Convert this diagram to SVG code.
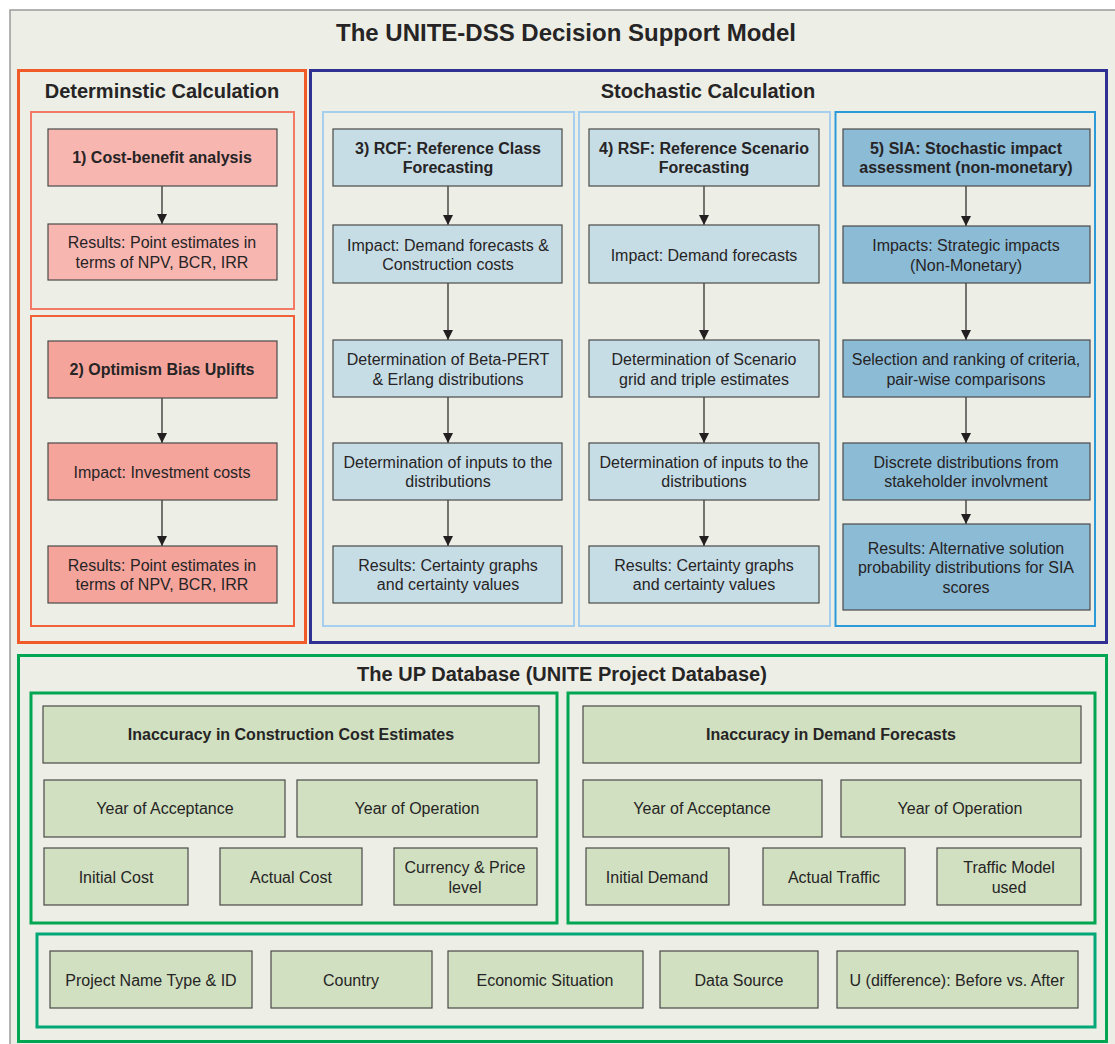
<svg xmlns="http://www.w3.org/2000/svg" width="1115" height="1044" viewBox="0 0 1115 1044">
<defs>
<marker id="ah" viewBox="0 0 10 10" refX="10" refY="5" markerWidth="10" markerHeight="10" markerUnits="userSpaceOnUse" orient="auto">
<path d="M0,0 L10,5 L0,10 z" fill="#231F20"/>
</marker>
<style>
text{font-family:"Liberation Sans",Arial,sans-serif;fill:#262425;text-anchor:middle;dominant-baseline:central}
.t{font-size:24px;font-weight:bold}
.h{font-size:20px;font-weight:bold}
.b{font-size:16px;font-weight:bold}
.n{font-size:16px}
.nd rect{stroke:#4a4a4a;stroke-width:1.2}
.pk1 rect{fill:#F8B6B1}
.pk2 rect{fill:#F5A49C}
.lb rect{fill:#C7DDE5}
.db rect{fill:#8CBBD6}
.gr rect{fill:#D0E0C0}
.edge{stroke:#231F20;stroke-width:1.2;fill:none;marker-end:url(#ah)}
</style>
</defs>
<rect x="0" y="0" width="1115" height="1044" fill="#ffffff"/>
<rect x="10" y="10" width="1110" height="1040" fill="#EDEFE6" stroke="#9a9a9a" stroke-width="1.5"/>
<text class="t" x="566" y="32">The UNITE-DSS Decision Support Model</text>

<g id="deterministic">
<rect x="18.5" y="70.5" width="287" height="572" fill="none" stroke="#F15A29" stroke-width="3"/>
<text class="h" x="162" y="91">Determinstic Calculation</text>
<rect x="31" y="112" width="263" height="197" fill="none" stroke="#F37A66" stroke-width="2"/>
<rect x="31" y="316" width="263" height="310" fill="none" stroke="#F2603A" stroke-width="2"/>
</g>

<g id="stochastic">
<rect x="310.5" y="70.5" width="796" height="572" fill="none" stroke="#2E3192" stroke-width="3"/>
<text class="h" x="708" y="91">Stochastic Calculation</text>
<rect x="323" y="112" width="251" height="514" fill="none" stroke="#A6CFEE" stroke-width="2"/>
<rect x="579" y="112" width="251" height="514" fill="none" stroke="#A6CFEE" stroke-width="2"/>
<rect x="835.5" y="112" width="259.5" height="514" fill="none" stroke="#2A9AD8" stroke-width="2"/>
</g>

<g id="updb">
<rect x="18.5" y="655.5" width="1088" height="386" fill="none" stroke="#00A651" stroke-width="3"/>
<text class="h" x="562" y="674">The UP Database (UNITE Project Database)</text>
<rect x="31" y="693" width="526" height="230" fill="none" stroke="#00A651" stroke-width="3"/>
<rect x="568" y="693" width="527" height="230" fill="none" stroke="#00A651" stroke-width="3"/>
<rect x="37" y="934" width="1058" height="93" fill="none" stroke="#00A878" stroke-width="3"/>
</g>

<g id="connectors">
<line class="edge" x1="162" y1="186" x2="162" y2="224"/>
<line class="edge" x1="162" y1="398" x2="162" y2="443"/>
<line class="edge" x1="162" y1="500" x2="162" y2="546"/>
<line class="edge" x1="448" y1="186" x2="448" y2="225"/>
<line class="edge" x1="448" y1="283" x2="448" y2="340"/>
<line class="edge" x1="448" y1="397" x2="448" y2="443"/>
<line class="edge" x1="448" y1="500" x2="448" y2="546"/>
<line class="edge" x1="704" y1="186" x2="704" y2="225"/>
<line class="edge" x1="704" y1="283" x2="704" y2="340"/>
<line class="edge" x1="704" y1="397" x2="704" y2="443"/>
<line class="edge" x1="704" y1="500" x2="704" y2="546"/>
<line class="edge" x1="966" y1="186" x2="966" y2="226"/>
<line class="edge" x1="966" y1="283" x2="966" y2="340"/>
<line class="edge" x1="966" y1="397" x2="966" y2="443"/>
<line class="edge" x1="966" y1="500" x2="966" y2="524"/>
</g>

<g id="n1" class="nd pk1"><rect x="48" y="129" width="229" height="57"/><text class="b" x="162" y="157">1) Cost-benefit analysis</text></g>
<g id="n1r" class="nd pk1"><rect x="48" y="224" width="229" height="56"/><text class="n" x="162" y="242">Results: Point estimates in</text><text class="n" x="162" y="262">terms of NPV, BCR, IRR</text></g>
<g id="n2" class="nd pk2"><rect x="48" y="341" width="229" height="57"/><text class="b" x="162" y="369">2) Optimism Bias Uplifts</text></g>
<g id="n2i" class="nd pk2"><rect x="48" y="443" width="229" height="57"/><text class="n" x="162" y="472">Impact: Investment costs</text></g>
<g id="n2r" class="nd pk2"><rect x="48" y="546" width="229" height="57"/><text class="n" x="162" y="565">Results: Point estimates in</text><text class="n" x="162" y="584">terms of NPV, BCR, IRR</text></g>

<g id="n3" class="nd lb"><rect x="333" y="129" width="229" height="57"/><text class="b" x="448" y="148">3) RCF: Reference Class</text><text class="b" x="448" y="167">Forecasting</text></g>
<g id="n3i" class="nd lb"><rect x="333" y="225" width="229" height="58"/><text class="n" x="448" y="245">Impact: Demand forecasts &amp;</text><text class="n" x="448" y="264">Construction costs</text></g>
<g id="n3d" class="nd lb"><rect x="333" y="340" width="229" height="57"/><text class="n" x="448" y="359">Determination of Beta-PERT</text><text class="n" x="448" y="379">&amp; Erlang distributions</text></g>
<g id="n3in" class="nd lb"><rect x="333" y="443" width="229" height="57"/><text class="n" x="448" y="462">Determination of inputs to the</text><text class="n" x="448" y="481">distributions</text></g>
<g id="n3r" class="nd lb"><rect x="333" y="546" width="229" height="57"/><text class="n" x="448" y="565">Results: Certainty graphs</text><text class="n" x="448" y="584">and certainty values</text></g>

<g id="n4" class="nd lb"><rect x="589" y="129" width="230" height="57"/><text class="b" x="704" y="148">4) RSF: Reference Scenario</text><text class="b" x="704" y="167">Forecasting</text></g>
<g id="n4i" class="nd lb"><rect x="589" y="225" width="230" height="58"/><text class="n" x="704" y="255">Impact: Demand forecasts</text></g>
<g id="n4d" class="nd lb"><rect x="589" y="340" width="230" height="57"/><text class="n" x="704" y="359">Determination of Scenario</text><text class="n" x="704" y="379">grid and triple estimates</text></g>
<g id="n4in" class="nd lb"><rect x="589" y="443" width="230" height="57"/><text class="n" x="704" y="462">Determination of inputs to the</text><text class="n" x="704" y="481">distributions</text></g>
<g id="n4r" class="nd lb"><rect x="589" y="546" width="230" height="57"/><text class="n" x="704" y="565">Results: Certainty graphs</text><text class="n" x="704" y="584">and certainty values</text></g>

<g id="n5" class="nd db"><rect x="843" y="129" width="247" height="57"/><text class="b" x="966" y="148">5) SIA: Stochastic impact</text><text class="b" x="966" y="167">assessment (non-monetary)</text></g>
<g id="n5i" class="nd db"><rect x="843" y="226" width="247" height="57"/><text class="n" x="966" y="245">Impacts: Strategic impacts</text><text class="n" x="966" y="265">(Non-Monetary)</text></g>
<g id="n5s" class="nd db"><rect x="843" y="340" width="247" height="57"/><text class="n" x="966" y="359">Selection and ranking of criteria,</text><text class="n" x="966" y="379">pair-wise comparisons</text></g>
<g id="n5d" class="nd db"><rect x="843" y="443" width="247" height="57"/><text class="n" x="966" y="462">Discrete distributions from</text><text class="n" x="966" y="481">stakeholder involvment</text></g>
<g id="n5r" class="nd db"><rect x="843" y="524" width="247" height="86"/><text class="n" x="966" y="548">Results: Alternative solution</text><text class="n" x="966" y="567">probability distributions for SIA</text><text class="n" x="966" y="587">scores</text></g>

<g id="c1" class="nd gr"><rect x="43" y="706" width="496" height="57"/><text class="b" x="291" y="734">Inaccuracy in Construction Cost Estimates</text></g>
<g id="c2" class="nd gr"><rect x="44" y="780" width="241" height="57"/><text class="n" x="165" y="808">Year of Acceptance</text></g>
<g id="c3" class="nd gr"><rect x="297" y="780" width="240" height="57"/><text class="n" x="417" y="808">Year of Operation</text></g>
<g id="c4" class="nd gr"><rect x="44" y="848" width="144" height="57"/><text class="n" x="116" y="877">Initial Cost</text></g>
<g id="c5" class="nd gr"><rect x="220" y="848" width="142" height="57"/><text class="n" x="291" y="877">Actual Cost</text></g>
<g id="c6" class="nd gr"><rect x="394" y="848" width="143" height="57"/><text class="n" x="465" y="867">Currency &amp; Price</text><text class="n" x="465" y="887">level</text></g>

<g id="d1" class="nd gr"><rect x="583" y="706" width="498" height="57"/><text class="b" x="831" y="734">Inaccuracy in Demand Forecasts</text></g>
<g id="d2" class="nd gr"><rect x="583" y="780" width="239" height="57"/><text class="n" x="702" y="808">Year of Acceptance</text></g>
<g id="d3" class="nd gr"><rect x="841" y="780" width="240" height="57"/><text class="n" x="960" y="808">Year of Operation</text></g>
<g id="d4" class="nd gr"><rect x="586" y="848" width="143" height="57"/><text class="n" x="657" y="877">Initial Demand</text></g>
<g id="d5" class="nd gr"><rect x="763" y="848" width="142" height="57"/><text class="n" x="834" y="877">Actual Traffic</text></g>
<g id="d6" class="nd gr"><rect x="937" y="848" width="144" height="57"/><text class="n" x="1009" y="867">Traffic Model</text><text class="n" x="1009" y="887">used</text></g>

<g id="p1" class="nd gr"><rect x="50" y="951" width="202" height="57"/><text class="n" x="151" y="980">Project Name Type &amp; ID</text></g>
<g id="p2" class="nd gr"><rect x="271" y="951" width="161" height="57"/><text class="n" x="351" y="980">Country</text></g>
<g id="p3" class="nd gr"><rect x="448" y="951" width="195" height="57"/><text class="n" x="545" y="980">Economic Situation</text></g>
<g id="p4" class="nd gr"><rect x="660" y="951" width="158" height="57"/><text class="n" x="739" y="980">Data Source</text></g>
<g id="p5" class="nd gr"><rect x="837" y="951" width="241" height="57"/><text class="n" x="957" y="980">U (difference): Before vs. After</text></g>
</svg>
